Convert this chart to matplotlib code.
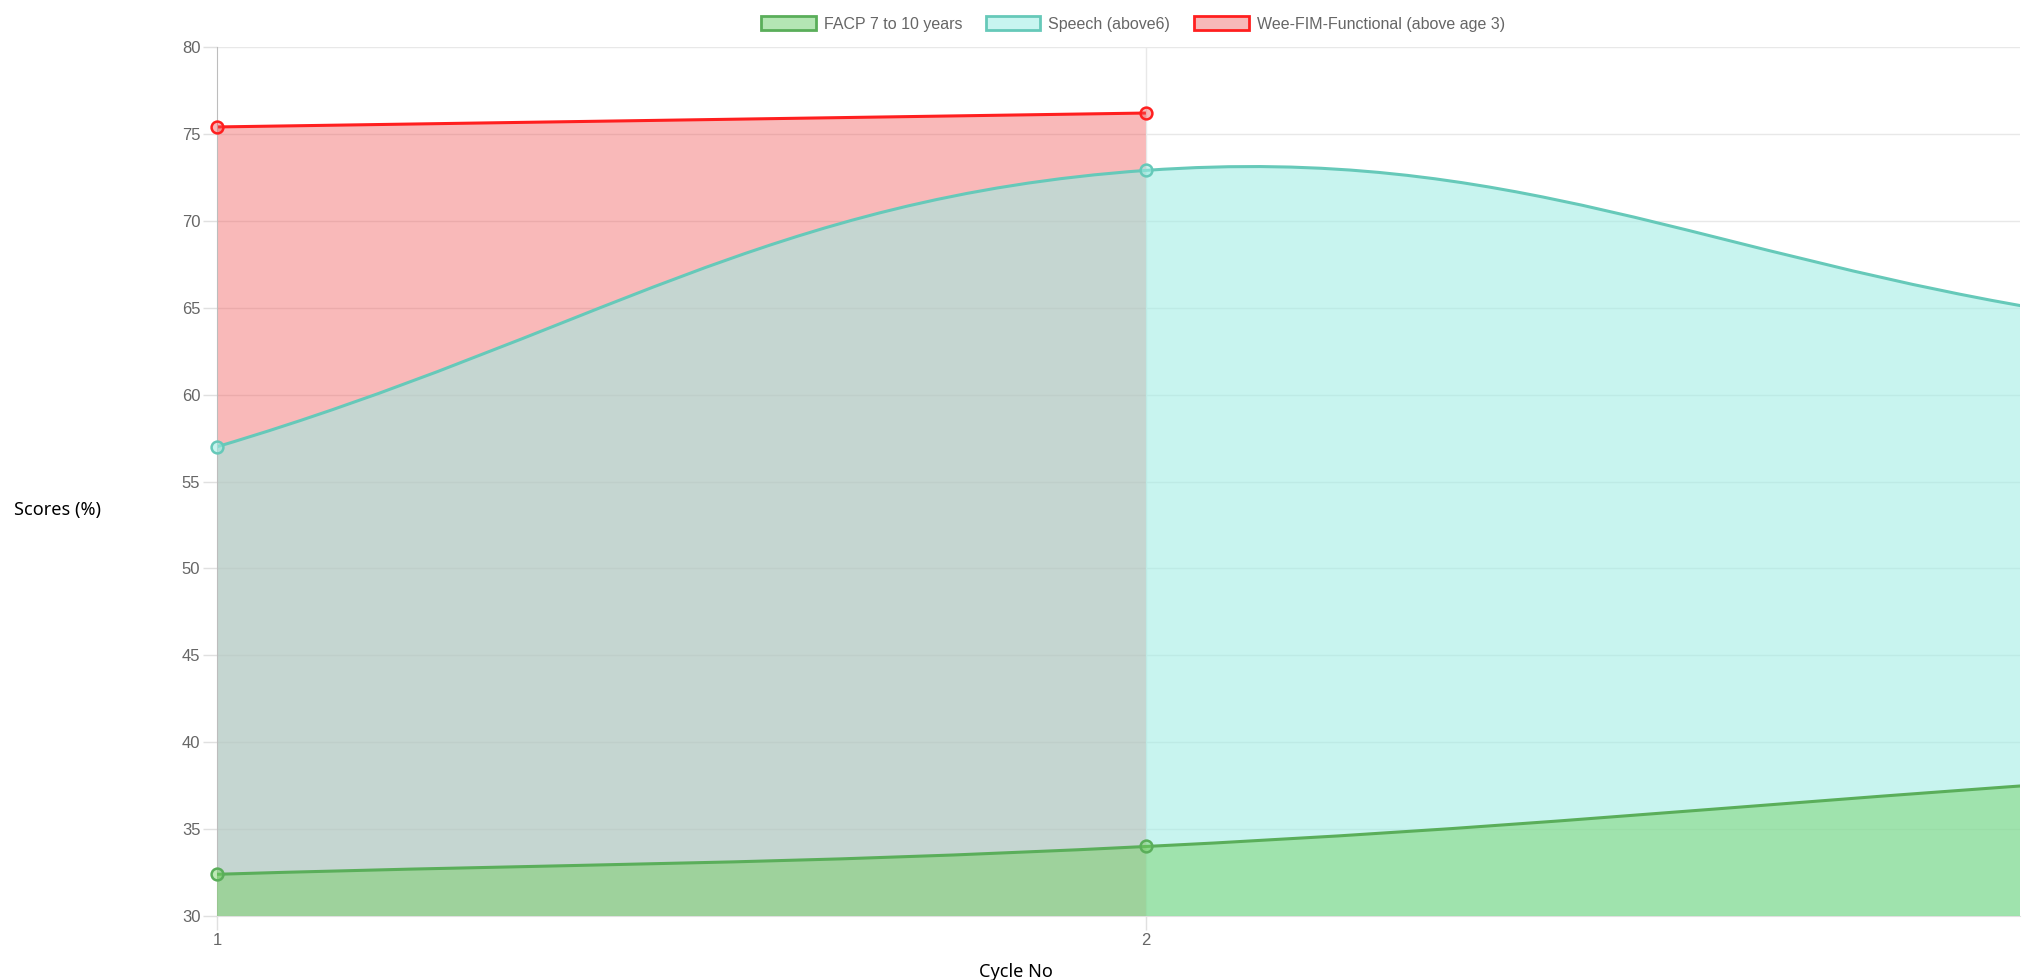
import numpy as np
import matplotlib
matplotlib.use("Agg")
import matplotlib.pyplot as plt
from matplotlib.path import Path
from matplotlib.patches import PathPatch, Patch

cycles = [1, 2, 3]
facp = [32.4, 34.0, 37.7]
speech = [57.0, 72.9, 64.6]
weefim = [75.4, 76.2]

labels = ['FACP 7 to 10 years', 'Speech (above6)', 'Wee-FIM-Functional (above age 3)']
line_colors = ['#5aae5a', '#66c9b9', '#ff1f1f']
fill_colors = [(111/255, 207/255, 93/255, 0.45),
               (157/255, 237/255, 228/255, 0.56),
               (240/255, 80/255, 80/255, 0.40)]
legend_fill = ['#b4e6b4', '#c8f5f0', '#f7b8b8']

tension = 0.4
ymin, ymax = 30, 80
xmax = 2.941

fig = plt.figure(figsize=(20.3, 9.8), dpi=100)
ax = fig.add_axes([217/2030, 1 - 916/980, 1803/2030, 869/980])
ax.set_xlim(1, xmax)
ax.set_ylim(ymin, ymax)

# pixel scale, used for chart.js style spline control points
sx = 929.0
sy = 17.4


def spline_path(xs, ys, close=False):
    px = np.array(xs, float) * sx
    py = np.array(ys, float) * sy
    n = len(px)
    cps = []
    for i in range(n):
        pi = max(i - 1, 0)
        ni = min(i + 1, n - 1)
        d01 = np.hypot(px[i] - px[pi], py[i] - py[pi])
        d12 = np.hypot(px[ni] - px[i], py[ni] - py[i])
        tot = d01 + d12
        s01 = d01 / tot if tot else 0
        s12 = d12 / tot if tot else 0
        fa, fb = tension * s01, tension * s12
        dx, dy = px[ni] - px[pi], py[ni] - py[pi]
        cps.append(((px[i] - fa * dx, py[i] - fa * dy), (px[i] + fb * dx, py[i] + fb * dy)))
    verts = [(xs[0], ys[0])]
    codes = [Path.MOVETO]
    for i in range(1, n):
        c1 = cps[i - 1][1]
        c2 = cps[i][0]
        verts += [(c1[0] / sx, c1[1] / sy), (c2[0] / sx, c2[1] / sy), (xs[i], ys[i])]
        codes += [Path.CURVE4] * 3
    if close:
        verts += [(xs[-1], ymin), (xs[0], ymin), (xs[0], ys[0])]
        codes += [Path.LINETO, Path.LINETO, Path.CLOSEPOLY]
    return Path(verts, codes)


# grid
for y in range(30, 81, 5):
    ax.axhline(y, color='#e8e8e8', lw=1, zorder=0)
ax.axvline(2, color='#e8e8e8', lw=1, zorder=0)

series = [(cycles[:2], weefim, 2), (cycles, speech, 1), (cycles, facp, 0)]
for xs, ys, k in series:
    ax.add_patch(PathPatch(spline_path(xs, ys, close=True), facecolor=fill_colors[k],
                           edgecolor='none', zorder=1 + (2 - k)))
    ax.add_patch(PathPatch(spline_path(xs, ys), facecolor='none', edgecolor=line_colors[k],
                           lw=2.2, zorder=1.5 + (2 - k)))
    ax.plot(xs, ys, 'o', ms=8.5, mfc=fill_colors[k], mec=line_colors[k], mew=1.8,
            zorder=5, clip_on=False)

for s in ['top', 'right']:
    ax.spines[s].set_visible(False)
ax.spines['left'].set_color('#bdbdbd')
ax.spines['bottom'].set_color('#e0e0e0')

ax.set_yticks(range(30, 81, 5))
ax.set_xticks([1, 2])
ax.tick_params(axis='both', colors='#e0e0e0', length=10, width=1, pad=2,
               labelcolor='#666666', labelsize=12)
for t in ax.get_xticklabels() + ax.get_yticklabels():
    t.set_fontfamily('Liberation Sans')

fig.text(14/2030, 1 - 510/980, 'Scores (%)', fontsize=13, family='Noto Sans',
         ha='left', va='center')
fig.text(1016/2030, 1 - 972/980, 'Cycle No', fontsize=13, family='Noto Sans',
         ha='center', va='center')

handles = [Patch(facecolor=legend_fill[k], edgecolor=line_colors[k], lw=2) for k in range(3)]
leg = fig.legend(handles, labels, loc='center', bbox_to_anchor=(1133/2030, 1 - 24/980),
                 ncol=3, frameon=False, handlelength=3.4, handleheight=1.0,
                 handletextpad=0.5, columnspacing=1.5,
                 prop={'family': 'Liberation Sans', 'size': 11.5})
for t in leg.get_texts():
    t.set_color('#666666')

fig.savefig('out.png', dpi=100)
